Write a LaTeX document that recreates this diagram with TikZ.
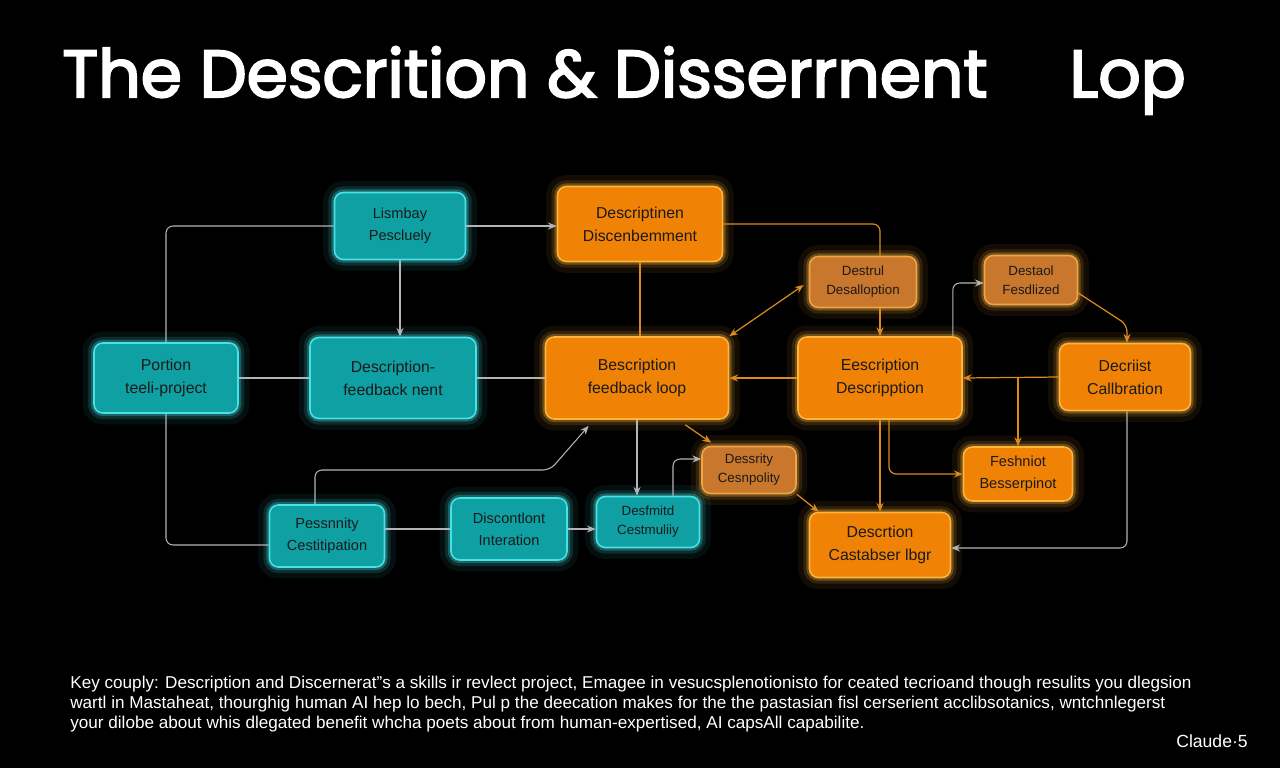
\documentclass[tikz,border=0pt]{standalone}
\usepackage{fontspec}
\setmainfont{Liberation Sans}
\newfontfamily\titlefont{Poppins}[FakeBold=3]
\usetikzlibrary{calc,arrows.meta}

\definecolor{tealfill}{HTML}{0FA0A4}
\definecolor{tealedge}{HTML}{45E3E6}
\definecolor{orangefill}{HTML}{F08206}
\definecolor{orangeedge}{HTML}{FFB43A}
\definecolor{rustfill}{HTML}{C9772C}
\definecolor{rustedge}{HTML}{EFA545}
\definecolor{boxtext}{HTML}{1A1A1A}
\definecolor{linegray}{HTML}{B4B4B4}
\definecolor{lineorange}{HTML}{DA8A1E}

\tikzset{
  box/.style={rectangle, rounded corners=5pt, inner sep=0pt, line width=0.9pt,
    text=boxtext, align=center, font=\fontsize{9}{13}\selectfont},
  smalltext/.style={font=\fontsize{7.6}{10.8}\selectfont},
  midtext/.style={font=\fontsize{8.3}{12.5}\selectfont},
  tealbox/.style={box, fill=tealfill, draw=tealedge,
    preaction={draw=tealedge, line width=13pt, draw opacity=0.07},
    preaction={draw=tealedge, line width=7pt, draw opacity=0.14},
    preaction={draw=tealedge, line width=3.5pt, draw opacity=0.3}},
  orangebox/.style={box, fill=orangefill, draw=orangeedge,
    preaction={draw=orangeedge, line width=13pt, draw opacity=0.07},
    preaction={draw=orangeedge, line width=7pt, draw opacity=0.14},
    preaction={draw=orangeedge, line width=3.5pt, draw opacity=0.3}},
  rustbox/.style={orangebox, fill=rustfill, draw=rustedge},
  gline/.style={draw=linegray, line width=0.6pt, rounded corners=4pt},
  oline/.style={draw=lineorange, line width=0.7pt, rounded corners=4pt},
  >={Stealth[length=5pt,width=4pt]}
}

\begin{document}
\begin{tikzpicture}[x=0.02cm, y=-0.02cm]
  % background, pixel grid 1280 x 768
  \fill[black] (0,0) rectangle (1280,768);
  \useasboundingbox (0,0) rectangle (1280,768);

  \node[anchor=base west, text=white, inner sep=0pt, font=\titlefont\fontsize{37.8}{40}\selectfont] (title) at (62,97)
    {The Descrition \& Disserrnent\hspace{1.64cm}Lop};

  % teal side
  \node[tealbox, midtext, minimum width=2.62cm, minimum height=1.34cm] (T1) at (400,226) {Lismbay\\Pescluely};
  \node[tealbox, minimum width=2.88cm, minimum height=1.40cm] (T2) at (166,378) {Portion\\teeli-project};
  \node[tealbox, minimum width=3.32cm, minimum height=1.62cm] (T3) at (393,378) {Description-\\feedback nent};
  \node[tealbox, midtext, minimum width=2.30cm, minimum height=1.24cm] (T4) at (327,536) {Pessnnity\\Cestitipation};
  \node[tealbox, midtext, minimum width=2.32cm, minimum height=1.24cm] (T5) at (509,529) {Discontlont\\Interation};
  \node[tealbox, smalltext, minimum width=2.06cm, minimum height=1.02cm] (T6) at (648,522) {Desfmitd\\Cestmuliiy};

  % orange side
  \node[orangebox, minimum width=3.30cm, minimum height=1.50cm] (O1) at (640,224) {Descriptinen\\Discenbemment};
  \node[rustbox, smalltext, minimum width=2.14cm, minimum height=1.02cm] (O2) at (863,282) {Destrul\\Desalloption};
  \node[rustbox, smalltext, minimum width=1.86cm, minimum height=0.98cm] (O3) at (1031,280) {Destaol\\Fesdlized};
  \node[orangebox, minimum width=3.66cm, minimum height=1.64cm] (O4) at (637,378) {Bescription\\feedback loop};
  \node[orangebox, minimum width=3.28cm, minimum height=1.64cm] (O5) at (880,378) {Eescription\\Descripption};
  \node[orangebox, minimum width=2.62cm, minimum height=1.34cm] (O6) at (1125,377) {Decriist\\Callbration};
  \node[rustbox, smalltext, minimum width=1.88cm, minimum height=0.94cm] (O7) at (749,470) {Dessrity\\Cesnpolity};
  \node[orangebox, midtext, minimum width=2.18cm, minimum height=1.08cm] (O8) at (1018,474) {Feshniot\\Besserpinot};
  \node[orangebox, minimum width=2.82cm, minimum height=1.30cm] (O9) at (880,545) {Descrtion\\Castabser lbgr};

  % gray connectors
  \draw[gline] (T1.west) -| (T2.north);
  \draw[gline, ->] (T1.east) -- (T1.east -| O1.west);
  \draw[gline, ->] (T1.south) -- (T1.south |- T3.north);
  \draw[gline] (T2.east) -- (T3.west);
  \draw[gline] (T3.east) -- (O4.west);
  \draw[gline] (T2.south) |- ($(T4.west)+(0,9)$);
  \draw[gline, ->] ($(T4.north)+(-12,0)$) |- (550,470) -- ($(O4.south west)+(44,6)$);
  \draw[gline] (T4.east |- T5.west) -- (T5.west);
  \draw[gline, ->] (T5.east) -- (T5.east -| T6.west);
  \draw[gline, ->] (O4.south) -- (O4.south |- T6.north);
  \draw[gline, ->] ($(T6.north)+(25,0)$) |- ($(O7.west)+(0,-11)$);
  \draw[gline, ->] ($(O5.north east)+(-10,0)$) |- ($(O3.west)+(0,3)$);
  \draw[gline, ->] ($(O6.south)+(2,0)$) |- ($(O9.east)+(0,3)$);

  % orange connectors
  \draw[oline] (O1.south) -- (O1.south |- O4.north);
  \draw[oline] (O1.east) -| ($(O2.north)+(17,0)$);
  \draw[oline, ->] ($(O2.south)+(17,0)$) -- (O5.north);
  \draw[oline, <->] (O4.north east) -- ($(O2.west)+(-5,3)$);
  \draw[oline, ->] ($(O3.east)+(0,13)$) -- ($(O6.north)+(2,-18)$) -- ($(O6.north)+(2,0)$);
  \draw[oline, ->] (O6.west) -- (O5.east);
  \draw[oline, ->] (O8.north |- O6.west) -- (O8.north);
  \draw[oline, ->] (O5.west) -- (O4.east);
  \draw[oline, ->] ($(O4.south east)+(-44,5)$) -- ($(O7.north west)+(10,-3)$);
  \draw[oline, ->] (O7.south east) -- ($(O9.north west)+(10,0)$);
  \draw[oline, ->] (O5.south) -- (O9.north);
  \draw[oline, ->] ($(O5.south)+(9,0)$) |- (O8.west);

  % footnote
  \node[anchor=north west, text=white, align=left, inner sep=0pt, font=\fontsize{9.75}{11.4}\selectfont] (note) at (70,676)
    {Key couply: Description and Discernerat”s a skills ir revlect project, Emagee in vesucsplenotionisto for ceated tecrioand though resulits you dlegsion\\
     wartl in Mastaheat, thourghig human AI hep lo bech, Pul p the deecation makes for the the pastasian fisl cerserient acclibsotanics, wntchnlegerst\\
     your dilobe about whis dlegated benefit whcha poets about from human-expertised, AI capsAll capabilite.};
  \node[anchor=base east, text=white, inner sep=0pt, font=\fontsize{10}{12}\selectfont] (brand) at (1248,747) {Claude·5};
\end{tikzpicture}
\end{document}
